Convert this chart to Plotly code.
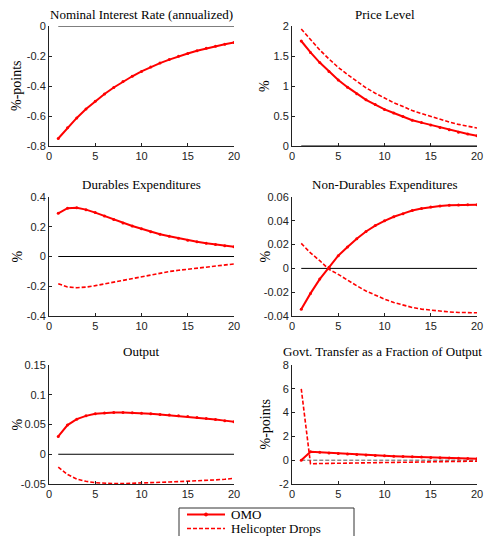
import plotly.graph_objects as go

periods = list(range(1, 21))

titles = ["Nominal Interest Rate (annualized)", "Price Level",
          "Durables Expenditures", "Non-Durables Expenditures",
          "Output", "Govt. Transfer as a Fraction of Output"]
ylabels = ["%-points", "%", "%", "%", "%", "%-points"]
legend_names = ["OMO", "Helicopter Drops"]

x_tickvals = [0, 5, 10, 15, 20]
x_ticktext = ["0", "5", "10", "15", "20"]

y_tickvals = [
    [-0.8, -0.6, -0.4, -0.2, 0],
    [0, 0.5, 1, 1.5, 2],
    [-0.4, -0.2, 0, 0.2, 0.4],
    [-0.04, -0.02, 0, 0.02, 0.04, 0.06],
    [-0.05, 0, 0.05, 0.1, 0.15],
    [-2, 0, 2, 4, 6, 8],
]
y_ticktext = [
    ["-0.8", "-0.6", "-0.4", "-0.2", "0"],
    ["0", "0.5", "1", "1.5", "2"],
    ["-0.4", "-0.2", "0", "0.2", "0.4"],
    ["-0.04", "-0.02", "0", "0.02", "0.04", "0.06"],
    ["-0.05", "0", "0.05", "0.1", "0.15"],
    ["-2", "0", "2", "4", "6", "8"],
]

rate_omo = [-0.750, -0.678, -0.613, -0.554, -0.501, -0.453, -0.410, -0.370, -0.335, -0.303,
            -0.274, -0.247, -0.224, -0.202, -0.183, -0.165, -0.149, -0.135, -0.122, -0.110]
rate_heli = None

price_omo = [1.75, 1.56, 1.39, 1.24, 1.10, 0.98, 0.87, 0.77, 0.69, 0.61,
             0.55, 0.49, 0.43, 0.39, 0.35, 0.31, 0.27, 0.23, 0.20, 0.17]
price_heli = [1.95, 1.77, 1.60, 1.45, 1.31, 1.19, 1.08, 0.97, 0.88, 0.80,
              0.72, 0.66, 0.59, 0.54, 0.49, 0.44, 0.40, 0.36, 0.33, 0.30]

dur_omo = [0.290, 0.325, 0.327, 0.315, 0.295, 0.272, 0.248, 0.225, 0.205, 0.186,
           0.167, 0.150, 0.136, 0.122, 0.110, 0.099, 0.089, 0.080, 0.072, 0.065]
dur_heli = [-0.183, -0.205, -0.210, -0.206, -0.196, -0.184, -0.171, -0.158, -0.145, -0.132,
            -0.120, -0.110, -0.101, -0.093, -0.085, -0.078, -0.071, -0.064, -0.058, -0.050]

nondur_omo = [-0.0344, -0.0210, -0.0090, 0.0010, 0.0107, 0.0180, 0.0250, 0.0310, 0.0360, 0.0400,
              0.0434, 0.0460, 0.0487, 0.0503, 0.0515, 0.0524, 0.0530, 0.0533, 0.0534, 0.0534]
nondur_heli = [0.0210, 0.0130, 0.0065, -0.0008, -0.0050, -0.0100, -0.0146, -0.0190, -0.0225, -0.0258,
               -0.0287, -0.0310, -0.0328, -0.0342, -0.0352, -0.0360, -0.0366, -0.0370, -0.0372, -0.0373]

out_omo = [0.030, 0.049, 0.059, 0.0645, 0.068, 0.0695, 0.070, 0.070, 0.0697, 0.069,
           0.068, 0.067, 0.0658, 0.0646, 0.0634, 0.0618, 0.0602, 0.0585, 0.0565, 0.0545]
out_heli = [-0.0215, -0.034, -0.0416, -0.0455, -0.0478, -0.0488, -0.0493, -0.0493, -0.0490, -0.0484,
            -0.0478, -0.0472, -0.0466, -0.0460, -0.0455, -0.0448, -0.0440, -0.0431, -0.0420, -0.0405]

gov_omo = [0.0, 0.70, 0.66, 0.61, 0.56, 0.52, 0.48, 0.44, 0.40, 0.37,
           0.34, 0.31, 0.28, 0.26, 0.23, 0.21, 0.19, 0.17, 0.15, 0.13]
gov_heli = [6.0, -0.30, -0.28, -0.27, -0.25, -0.24, -0.22, -0.21, -0.19, -0.18,
            -0.17, -0.16, -0.15, -0.14, -0.13, -0.12, -0.11, -0.10, -0.09, -0.08]

zero_line = [0.0] * 20

omo_series = [rate_omo, price_omo, dur_omo, nondur_omo, out_omo, gov_omo]
heli_series = [rate_heli, price_heli, dur_heli, nondur_heli, out_heli, gov_heli]

y_ranges = [(-0.8, 0), (0, 2), (-0.4, 0.4), (-0.04, 0.06), (-0.05, 0.15), (-2, 8)]

# page body has an 8px margin; figure coordinates are offset accordingly
OFF = 8
W, H = 492 - 2 * OFF, 536 - OFF
col_px = [(49, 234), (292, 477)]
row_px = [(26, 146), (197, 316), (365, 484)]
title_gap = [1.5, 3, 4]
ylab_x = [17, 265]
title_x = [141.5, 384.5, 141.5, 384.5, 141.5, 382]


def px_x(p):
    return (p - OFF) / W


def px_y(p):
    return 1 - (p - OFF) / H


fig = go.Figure()
serif = "Liberation Serif"
sans = "Liberation Sans"
axis_col = "#222222"
red = "#ff0000"
dash_pat = "4px,2px"

annotations = []
for i in range(6):
    r, c = divmod(i, 2)
    xa = "xaxis" if i == 0 else f"xaxis{i+1}"
    ya = "yaxis" if i == 0 else f"yaxis{i+1}"
    xref = "x" if i == 0 else f"x{i+1}"
    yref = "y" if i == 0 else f"y{i+1}"
    x0, x1 = col_px[c]
    y0, y1 = row_px[r]
    xd = [px_x(x0), px_x(x1)]
    yd = [px_y(y1), px_y(y0)]

    # zero reference line
    fig.add_trace(go.Scatter(
        x=periods, y=zero_line, xaxis=xref, yaxis=yref, mode="lines",
        line=dict(color="#555555" if i == 5 else "#000000", width=1,
                  dash=dash_pat if i == 5 else "solid"),
        showlegend=False, hoverinfo="skip"))

    if heli_series[i] is not None:
        fig.add_trace(go.Scatter(
            x=periods, y=heli_series[i], xaxis=xref, yaxis=yref, mode="lines",
            line=dict(color=red, width=1.6, dash=dash_pat),
            name=legend_names[1], showlegend=False))
    fig.add_trace(go.Scatter(
        x=periods, y=omo_series[i], xaxis=xref, yaxis=yref, mode="lines+markers",
        line=dict(color=red, width=2), marker=dict(color=red, size=3),
        name=legend_names[0], showlegend=False))

    fig.layout[xa] = dict(domain=xd, anchor=yref, range=[0, 20],
                          tickmode="array", tickvals=x_tickvals, ticktext=x_ticktext,
                          showline=True, linecolor=axis_col, linewidth=1, ticks="inside",
                          ticklen=3, tickcolor=axis_col, showgrid=False, zeroline=False,
                          tickfont=dict(family=sans, size=11, color=axis_col))
    fig.layout[ya] = dict(domain=yd, anchor=xref, range=list(y_ranges[i]),
                          tickmode="array", tickvals=y_tickvals[i], ticktext=y_ticktext[i],
                          showline=True, linecolor=axis_col, linewidth=1, ticks="inside",
                          ticklen=3, tickcolor=axis_col, showgrid=False, zeroline=False,
                          tickfont=dict(family=sans, size=11, color=axis_col))

    annotations.append(dict(text=titles[i], xref="paper", yref="paper",
                            x=px_x(title_x[i]), y=yd[1] + title_gap[r] / H, xanchor="center",
                            yanchor="bottom", showarrow=False,
                            font=dict(family=serif, size=13, color="#000000")))
    annotations.append(dict(text=ylabels[i], xref="paper", yref="paper",
                            x=px_x(ylab_x[c]), y=(yd[0] + yd[1]) / 2, xanchor="center",
                            yanchor="middle", textangle=-90, showarrow=False,
                            font=dict(family=serif, size=14, color="#000000")))

# hand-drawn legend box (matches the compact MATLAB-style legend)
leg_left, leg_right, leg_top = 179, 354, 508
leg_rows = [514.5, 528.5]
sample_x = (187, 225)
shapes = [
    dict(type="rect", xref="paper", yref="paper",
         x0=px_x(leg_left), x1=px_x(leg_right), y0=px_y(545), y1=px_y(leg_top),
         line=dict(color="#333333", width=1), fillcolor="white", layer="above"),
    dict(type="line", xref="paper", yref="paper",
         x0=px_x(sample_x[0]), x1=px_x(sample_x[1]), y0=px_y(leg_rows[0]), y1=px_y(leg_rows[0]),
         line=dict(color=red, width=2), layer="above"),
    dict(type="circle", xref="paper", yref="paper",
         x0=px_x(204.5), x1=px_x(207.5), y0=px_y(leg_rows[0] + 1.5), y1=px_y(leg_rows[0] - 1.5),
         line=dict(color=red, width=1), fillcolor=red, layer="above"),
    dict(type="line", xref="paper", yref="paper",
         x0=px_x(sample_x[0]), x1=px_x(sample_x[1]), y0=px_y(leg_rows[1]), y1=px_y(leg_rows[1]),
         line=dict(color=red, width=1.6, dash=dash_pat), layer="above"),
]
for name, row in zip(legend_names, leg_rows):
    annotations.append(dict(text=name, xref="paper", yref="paper",
                            x=px_x(229), y=px_y(row), xanchor="left", yanchor="middle",
                            showarrow=False,
                            font=dict(family=serif, size=13, color="#000000")))

fig.update_layout(
    width=W, height=H, margin=dict(l=0, r=0, t=0, b=0, autoexpand=False),
    paper_bgcolor="white", plot_bgcolor="white",
    annotations=annotations, shapes=shapes, showlegend=False,
)

fig.write_html("out.html")
